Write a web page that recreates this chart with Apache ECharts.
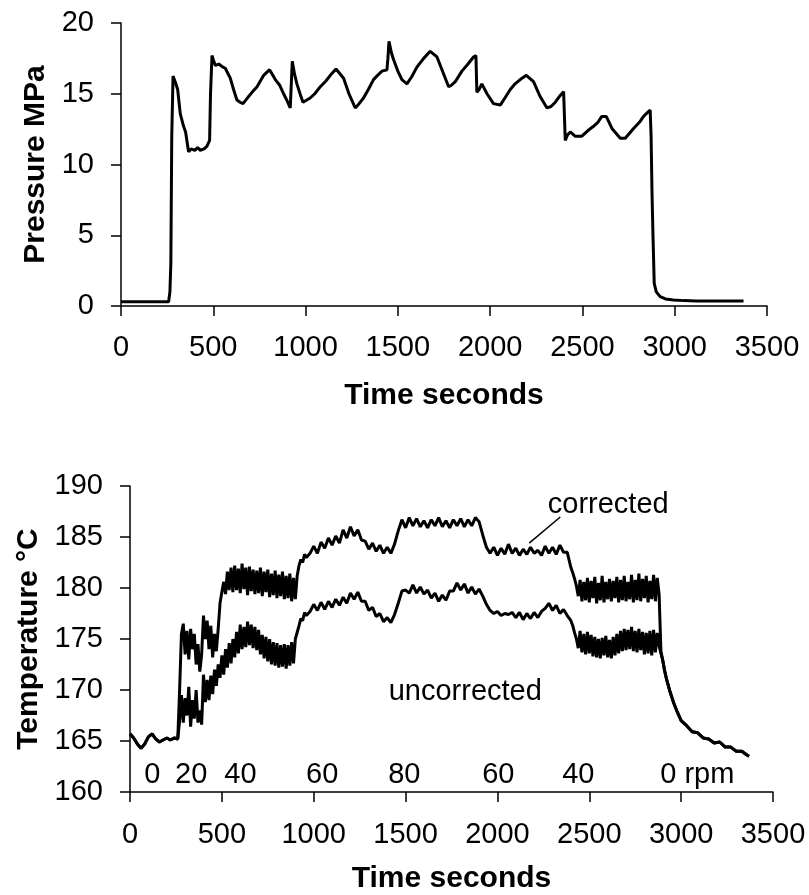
<!DOCTYPE html>
<html>
<head>
<meta charset="utf-8">
<title>Pressure and temperature</title>
<script src="https://cdn.jsdelivr.net/npm/echarts@6/dist/echarts.min.js"></script>
<style>
  html, body { margin: 0; padding: 0; background: #fff; }
  #chart { width: 809px; height: 895px; }
</style>
</head>
<body>
<div id="chart"></div>
<script>
// top panel: melt pressure
const pressureTime = [0,100,200,258,265,270,275,282,295,307,
  321,339,350,366,380,400,415,430,450,466,
  480,485,493,500,511,530,550,565,592,610,
  628,645,661,691,710,737,755,773,805,836,
  860,881,900,917,922,928,940,953,970,986,
  1025,1050,1080,1110,1134,1165,1206,1235,1269,1290,
  1314,1340,1368,1390,1414,1441,1446,1452,1465,1477,
  1500,1522,1549,1575,1604,1640,1675,1712,1748,1775,
  1790,1811,1847,1880,1910,1923,1928,1940,1955,1983,
  2018,2055,2080,2109,2135,2163,2196,2235,2271,2308,
  2330,2353,2375,2398,2407,2420,2434,2460,2497,2530,
  2560,2585,2605,2629,2660,2705,2732,2777,2810,2831,
  2867,2872,2877,2882,2889,2900,2921,2950,2994,3050,
  3117,3200,3300,3373];
const pressure = [0.3,0.3,0.3,0.3,1.0,3.0,12.0,16.25,15.8,15.3,
  13.6,12.7,12.3,10.9,11.1,11.0,11.2,11.0,11.1,11.3,
  11.7,15.0,17.7,17.4,17.0,17.1,16.9,16.8,16.1,15.3,
  14.56,14.4,14.3,14.8,15.1,15.5,15.9,16.3,16.7,16.0,
  15.6,15.0,14.5,14.0,14.0,17.3,16.4,15.7,15.0,14.4,
  14.7,15.0,15.5,15.9,16.3,16.75,16.1,15.0,14.0,14.3,
  14.7,15.3,16.0,16.3,16.6,16.7,17.5,18.7,17.9,17.4,
  16.6,16.0,15.7,16.2,16.9,17.5,18.0,17.6,16.4,15.5,
  15.6,15.85,16.6,17.1,17.6,17.7,15.1,15.3,15.7,15.0,
  14.3,14.2,14.7,15.3,15.7,16.0,16.3,15.85,14.8,14.0,
  14.1,14.4,14.8,15.15,11.7,12.1,12.3,12.0,12.0,12.4,
  12.7,13.0,13.4,13.4,12.55,11.85,11.85,12.55,13.0,13.4,
  13.85,12.0,8.0,5.1,1.6,1.0,0.66,0.5,0.42,0.38,
  0.35,0.35,0.35,0.35];

// bottom panel: temperature, both curves share the start and the cooling tail
const tStart = [0,20,40,60,80,100,120,140,160,180,200,220,240,260];
const tempStart = [165.7,165.3,164.7,164.3,164.7,165.4,165.7,165.2,164.9,165.1,165.3,165.1,165.3,165.2];

const tA = [270,280,290,300,310,320,330,340,350,360,
  370,380,390,400,410,420,430,440,450,460,
  470,480,490,500,510,520,530,540,550,560,
  570,580,590,600,610,620,630,640,650,660,
  670,680,690,700,710,720,730,740,750,760,
  770,780,790,800,810,820,830,840,850,860,
  870,880,890,900,910,920,930,940,950,960];
const correctedA = [170.0,175.5,176.5,173.5,175.8,173.0,176.0,174.0,175.5,172.5,
  174.5,171.8,173.5,177.3,175.0,176.8,174.0,176.3,173.2,175.5,
  173.8,176.0,178.5,179.6,180.6,179.4,181.6,179.8,182.0,179.6,
  182.2,179.8,181.9,179.5,182.4,179.9,182.0,179.3,182.1,179.7,
  181.8,179.4,181.7,179.5,182.0,179.2,181.6,179.6,181.8,179.1,
  181.4,179.3,181.7,179.0,181.3,179.2,181.6,178.9,181.2,179.0,
  181.4,178.7,181.0,178.9,181.2,182.2,182.8,182.5,183.3,183.0];
const uncorrectedA = [167.0,169.5,166.8,169.2,167.5,170.3,166.4,169.0,167.2,170.0,
  166.8,168.0,166.6,171.5,168.8,171.0,169.0,171.4,169.6,172.0,
  170.4,172.5,171.2,173.4,171.5,174.0,172.2,174.6,172.6,175.0,
  173.2,175.7,173.6,176.4,174.0,176.2,174.2,176.7,174.4,176.4,
  174.1,176.2,173.9,175.9,173.5,175.4,173.1,175.2,172.8,175.0,
  172.5,174.7,172.4,174.6,172.2,174.4,172.3,174.5,172.1,174.4,
  172.4,174.7,172.6,175.0,175.0,176.3,177.0,176.8,177.6,177.3];

const tB = [980,1000,1020,1040,1060,1080,1100,1120,1140,1160,
  1180,1200,1220,1240,1260,1280,1300,1320,1340,1360,
  1380,1400,1420,1440,1460,1480,1500,1520,1540,1560,
  1580,1600,1620,1640,1660,1680,1700,1720,1740,1760,
  1780,1800,1820,1840,1860,1880,1900,1920,1940,1960,
  1980,2000,2020,2040,2060,2080,2100,2120,2140,2160,
  2180,2200,2220,2240,2260,2280,2300,2320,2340,2360,
  2380,2400];
const correctedB = [183.4,184.1,183.4,184.5,183.9,184.9,184.2,185.1,184.4,185.7,
  184.9,186.0,185.1,185.7,184.7,184.6,183.8,184.4,183.6,184.2,
  183.4,184.0,183.4,184.3,185.6,186.7,185.9,186.9,186.1,186.8,
  186.0,186.6,185.9,186.7,186.1,186.9,186.0,186.6,185.9,186.7,
  186.1,186.8,186.0,186.7,186.1,186.9,186.5,185.2,184.0,183.4,
  184.0,183.2,183.9,183.3,184.3,183.4,183.9,183.2,183.8,183.3,
  184.0,183.4,183.7,183.2,184.1,183.4,184.0,183.3,184.2,183.5,
  183.5,182.0];
const uncorrectedB = [177.7,178.4,177.8,178.6,177.9,178.7,178.1,178.9,178.3,179.1,
  178.5,179.5,178.9,179.6,178.7,178.7,177.8,178.1,177.2,177.5,
  176.7,177.1,176.6,177.4,178.5,179.7,179.8,179.5,180.3,179.5,
  180.1,179.4,179.8,179.0,179.5,178.7,179.3,178.8,179.7,179.7,
  180.5,179.8,180.4,179.5,180.1,179.4,179.9,179.2,178.4,177.8,
  177.5,177.7,177.3,177.5,177.4,177.6,177.1,177.6,176.9,177.5,
  177.0,177.6,177.1,177.7,178.0,178.5,177.8,178.3,177.5,177.9,
  177.3,176.8];

const tC = [2410,2420,2430,2440,2450,2460,2470,2480,2490,2500,
  2510,2520,2530,2540,2550,2560,2570,2580,2590,2600,
  2610,2620,2630,2640,2650,2660,2670,2680,2690,2700,
  2710,2720,2730,2740,2750,2760,2770,2780,2790,2800,
  2810,2820,2830,2840,2850,2860,2870,2880,2890];
const correctedC = [181.5,180.9,180.2,179.2,180.8,178.7,180.6,178.8,181.0,178.6,
  180.7,179.0,181.1,178.5,180.5,178.8,181.2,178.6,180.6,178.9,
  180.9,178.7,180.7,179.0,181.1,178.6,180.8,178.8,181.2,178.7,
  180.6,178.9,181.3,178.6,180.8,178.8,181.4,178.7,180.9,179.0,
  181.2,178.6,180.7,178.9,181.3,178.7,181.0,179.4,173.8];
const uncorrectedC = [176.3,175.6,175.0,174.1,175.8,173.7,175.5,173.5,175.7,173.6,
  175.4,173.3,175.2,173.2,175.0,173.1,175.1,173.4,175.3,173.2,
  174.9,173.1,175.2,173.4,175.5,173.6,175.8,173.8,176.0,173.9,
  175.9,174.0,176.2,173.8,175.8,173.7,176.0,173.9,175.7,173.5,
  175.6,173.6,175.8,173.4,175.9,173.7,175.6,174.3,173.6];

const tEnd = [2900,2910,2920,2940,2960,2980,3000,3030,3060,3090,
  3120,3150,3180,3210,3240,3270,3300,3330,3360,3370];
const tempEnd = [172.9,171.9,171.1,169.8,168.7,167.8,167.0,166.5,165.9,165.8,
  165.3,165.2,164.8,164.9,164.4,164.4,164.0,164.0,163.6,163.5];

// text on the temperature panel
const rpmLabels = ["0", "20", "40", "60", "80", "60", "40", "0 rpm"];
const rpmTime = [121, 333, 601, 1046, 1493, 2005, 2440, 3088];
const rpmTemp = 161.7;
const noteText = ["corrected", "uncorrected"];
const noteTime = [2603, 1825];
const noteTemp = [188.1, 169.8];
const leaderTime = [2342, 2173];
const leaderTemp = [186.96, 184.4];

const FONT = "'Liberation Sans', Arial, sans-serif";

function zip(xs, ys) {
  return xs.map((x, i) => [x, ys[i]]);
}

const pressureData = zip(pressureTime, pressure);
const correctedData = [].concat(zip(tStart, tempStart), zip(tA, correctedA), zip(tB, correctedB), zip(tC, correctedC), zip(tEnd, tempEnd));
const uncorrectedData = [].concat(zip(tStart, tempStart), zip(tA, uncorrectedA), zip(tB, uncorrectedB), zip(tC, uncorrectedC), zip(tEnd, tempEnd));

function xAxisFor(grid, labelMargin, nameGap) {
  return {
    gridIndex: grid,
    type: "value",
    min: 0,
    max: 3500,
    interval: 500,
    name: "Time seconds",
    nameLocation: "middle",
    nameGap: nameGap,
    nameTextStyle: { fontSize: 30, fontWeight: "bold", color: "#000", fontFamily: FONT },
    axisLine: { show: true, onZero: false, lineStyle: { color: "#000", width: 1.5 } },
    axisTick: { show: true, length: 10, lineStyle: { color: "#000", width: 1.5 } },
    axisLabel: { fontSize: 29, margin: labelMargin, color: "#000", fontFamily: FONT, formatter: (v) => String(v) },
    splitLine: { show: false },
  };
}

function yAxisFor(grid, min, max, name, nameGap) {
  return {
    gridIndex: grid,
    type: "value",
    min: min,
    max: max,
    interval: 5,
    name: name,
    nameLocation: "middle",
    nameGap: nameGap,
    nameTextStyle: { fontSize: 30, fontWeight: "bold", color: "#000", fontFamily: FONT },
    axisLine: { show: true, lineStyle: { color: "#000", width: 1.5 } },
    axisTick: { show: true, length: 10, lineStyle: { color: "#000", width: 1.5 } },
    axisLabel: { fontSize: 29, margin: 27, color: "#000", fontFamily: FONT },
    splitLine: { show: false },
  };
}

const chart = echarts.init(document.getElementById("chart"), null, { renderer: "canvas" });

chart.setOption({
  animation: false,
  backgroundColor: "#fff",
  grid: [
    { left: 121, top: 23, width: 646, height: 283 },
    { left: 130, top: 486, width: 643, height: 306 },
  ],
  xAxis: [xAxisFor(0, 27, 75), xAxisFor(1, 28, 72)],
  yAxis: [
    yAxisFor(0, 0, 20, "Pressure MPa", 70),
    yAxisFor(1, 160, 190, "Temperature °C", 84),
  ],
  series: [
    {
      name: "Pressure",
      type: "line",
      xAxisIndex: 0,
      yAxisIndex: 0,
      data: pressureData,
      showSymbol: false,
      lineStyle: { color: "#000", width: 3 },
    },
    {
      name: "corrected",
      type: "line",
      xAxisIndex: 1,
      yAxisIndex: 1,
      data: correctedData,
      showSymbol: false,
      lineStyle: { color: "#000", width: 3 },
    },
    {
      name: "uncorrected",
      type: "line",
      xAxisIndex: 1,
      yAxisIndex: 1,
      data: uncorrectedData,
      showSymbol: false,
      lineStyle: { color: "#000", width: 3 },
    },
  ],
});

// labels and leader line placed through the temperature axes
const toPx = (t, v) => chart.convertToPixel({ gridIndex: 1 }, [t, v]);
const graphics = [];
rpmLabels.forEach((txt, i) => {
  const p = toPx(rpmTime[i], rpmTemp);
  graphics.push({
    type: "text", x: p[0], y: p[1],
    style: { text: txt, fontSize: 29, fontFamily: FONT, fill: "#000", align: "center", verticalAlign: "middle" },
  });
});
noteText.forEach((txt, i) => {
  const p = toPx(noteTime[i], noteTemp[i]);
  graphics.push({
    type: "text", x: p[0], y: p[1],
    style: { text: txt, fontSize: 29, fontFamily: FONT, fill: "#000", align: "center", verticalAlign: "middle" },
  });
});
const a = toPx(leaderTime[0], leaderTemp[0]);
const b = toPx(leaderTime[1], leaderTemp[1]);
graphics.push({
  type: "line",
  shape: { x1: a[0], y1: a[1], x2: b[0], y2: b[1] },
  style: { stroke: "#000", lineWidth: 1.5 },
});
chart.setOption({ graphic: graphics });
</script>
</body>
</html>
